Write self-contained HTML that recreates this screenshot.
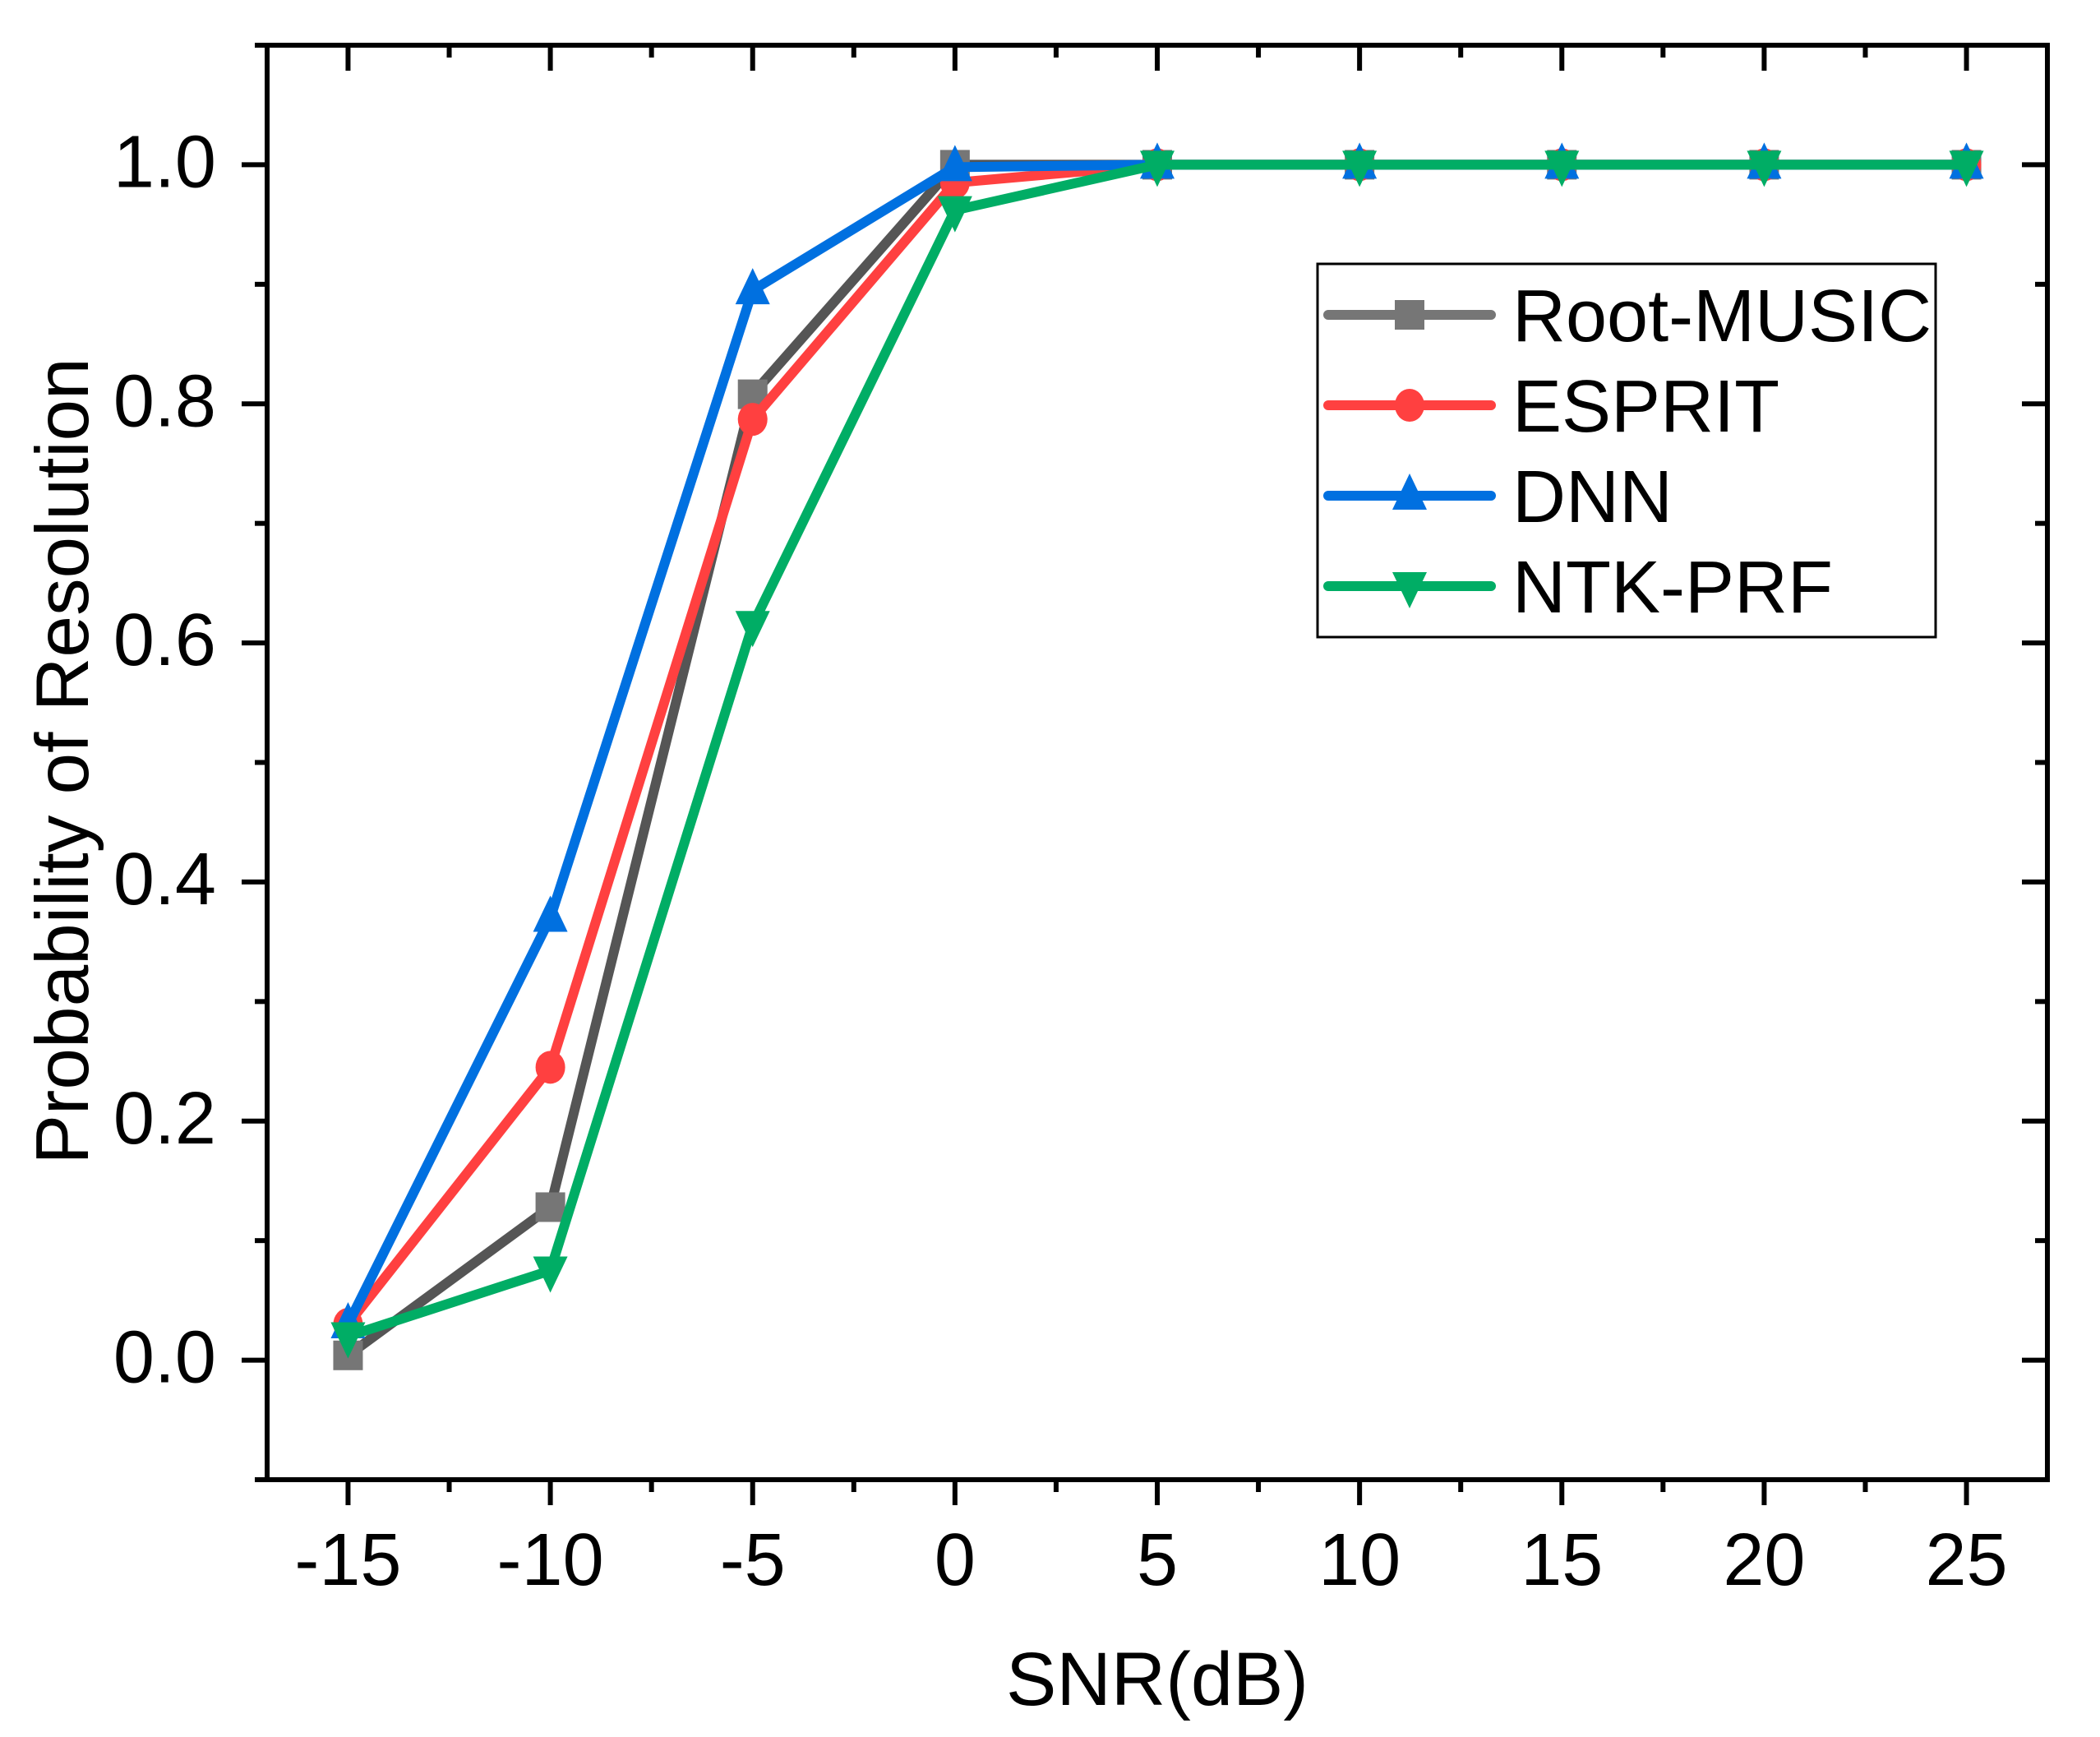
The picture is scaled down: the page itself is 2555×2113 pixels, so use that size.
<!DOCTYPE html>
<html><head><meta charset="utf-8"><style>
html,body{margin:0;padding:0;background:#fff;}
svg{display:block;font-family:"Liberation Sans",Arial,sans-serif;}
</style></head><body>
<svg id="chart" width="2555" height="2113" viewBox="0 0 2555 2113">
<rect width="2555" height="2113" fill="#fff"/>
<g id="ticks"></g>
<g id="series"></g>
<rect x="325" y="55" width="2166" height="1745" fill="none" stroke="#000" stroke-width="6"/>
<text x="75" y="926" font-size="91" text-anchor="middle" transform="rotate(-90 75 926)" dy="32">Probability of Resolution</text>
<text x="1408" y="2074" font-size="92" text-anchor="middle">SNR(dB)</text>
<g id="legend">
<rect x="1603" y="321" width="752" height="454" fill="#fff" stroke="#000" stroke-width="3"/>
</g>
</svg>
<script>
const categories = [-15, -10, -5, 0, 5, 10, 15, 20, 25];
const rootMusic = [0.004, 0.128, 0.808, 1.0, 1.0, 1.0, 1.0, 1.0, 1.0];
const esprit = [0.03, 0.245, 0.787, 0.985, 1.0, 1.0, 1.0, 1.0, 1.0];
const dnn = [0.03, 0.37, 0.895, 0.998, 1.0, 1.0, 1.0, 1.0, 1.0];
const ntkprf = [0.02, 0.075, 0.615, 0.962, 1.0, 1.0, 1.0, 1.0, 1.0];
const xTickLabels = ["-15", "-10", "-5", "0", "5", "10", "15", "20", "25"];
const yTickLabels = ["0.0", "0.2", "0.4", "0.6", "0.8", "1.0"];
const seriesNames = ["Root-MUSIC", "ESPRIT", "DNN", "NTK-PRF"];

const NS = "http://www.w3.org/2000/svg";
const L = 325, R = 2491, T = 55, B = 1800;
const xMin = -17, xMax = 27, yMin = -0.1, yMax = 1.1;
function sx(v){ return L + (v - xMin) / (xMax - xMin) * (R - L); }
function sy(v){ return B - (v - yMin) / (yMax - yMin) * (B - T); }
function mk(tag, attrs, parent){
  const e = document.createElementNS(NS, tag);
  for (const k in attrs) e.setAttribute(k, attrs[k]);
  parent.appendChild(e); return e;
}
const tg = document.getElementById('ticks');
for (let i = 0; i < xTickLabels.length; i++) {
  const v = parseFloat(xTickLabels[i]); const x = sx(v);
  const t1 = mk('line', {x1:x, y1:B, x2:x, y2:B+31, stroke:'#000','stroke-width':6}, tg);
  
  
  const t2 = mk('line', {x1:x, y1:T, x2:x, y2:T+31, stroke:'#000','stroke-width':6}, tg);
  
  
  const tx = mk('text', {x:x, y:1928, 'font-size':90, 'text-anchor':'middle'}, tg);
  tx.textContent = xTickLabels[i];
  
  
  if (i < xTickLabels.length - 1) {
    const m = sx(v + 2.5);
    mk('line', {x1:m, y1:B, x2:m, y2:B+15, stroke:'#000','stroke-width':6}, tg);
    mk('line', {x1:m, y1:T, x2:m, y2:T+15, stroke:'#000','stroke-width':6}, tg);
  }
}
for (let i = 0; i < yTickLabels.length; i++) {
  const v = parseFloat(yTickLabels[i]); const y = sy(v);
  const t1 = mk('line', {x1:L-31, y1:y, x2:L, y2:y, stroke:'#000','stroke-width':6}, tg);
  
  
  mk('line', {x1:R-31, y1:y, x2:R, y2:y, stroke:'#000','stroke-width':6}, tg);
  const tx = mk('text', {x:263, y:y+27, 'font-size':90, 'text-anchor':'end'}, tg);
  tx.textContent = yTickLabels[i];
  
  
}
for (let v = -0.1; v < 1.15; v += 0.2) {
  const y = sy(v);
  mk('line', {x1:L-15, y1:y, x2:L, y2:y, stroke:'#000','stroke-width':6}, tg);
  mk('line', {x1:R-15, y1:y, x2:R, y2:y, stroke:'#000','stroke-width':6}, tg);
}
const styles = [
  {line:'#555555', leg:'#767676', fill:'#767676', m:'square'},
  {line:'#ff4040', leg:'#ff4040', fill:'#ff4040', m:'circle'},
  {line:'#0070e0', leg:'#0070e0', fill:'#0070e0', m:'up'},
  {line:'#00ad65', leg:'#00ad65', fill:'#00ad65', m:'down'}
];
function marker(type, x, y, color, parent){
  let e;
  if (type === 'square') e = mk('rect', {x:x-18, y:y-18, width:36, height:36, fill:color}, parent);
  else if (type === 'circle') e = mk('ellipse', {cx:x, cy:y, rx:18, ry:20, fill:color}, parent);
  else if (type === 'up') e = mk('polygon', {points:`${x},${y-27} ${x-21},${y+17} ${x+21},${y+17}`, fill:color}, parent);
  else e = mk('polygon', {points:`${x},${y+27} ${x-21},${y-17} ${x+21},${y-17}`, fill:color}, parent);
  return e;
}
const sg = document.getElementById('series');
const data = [rootMusic, esprit, dnn, ntkprf];
const slugs = ['root-music', 'esprit', 'dnn', 'ntk-prf'];
for (let s = 0; s < data.length; s++) {
  const g = mk('g', {}, sg);
  
  
  const pts = categories.map((c, i) => sx(c) + ',' + sy(data[s][i])).join(' ');
  const pl = mk('polyline', {points:pts, fill:'none', stroke:styles[s].line, 'stroke-width':12, 'stroke-linejoin':'round'}, g);
  
  
  for (let i = 0; i < categories.length; i++) {
    const p = marker(styles[s].m, sx(categories[i]), sy(data[s][i]), styles[s].fill, g);
    
    
  }
}
const lg = document.getElementById('legend');
const rowY = [383, 493, 603, 713];
for (let s = 0; s < seriesNames.length; s++) {
  const g = mk('g', {}, lg);
  
  
  mk('line', {x1:1616, y1:rowY[s], x2:1814, y2:rowY[s], stroke:styles[s].leg, 'stroke-width':12, 'stroke-linecap':'round'}, g);
  marker(styles[s].m, 1715, rowY[s], styles[s].fill, g);
  const t = mk('text', {x:1840, y:rowY[s] + 32, 'font-size':90, textLength:0}, g);
  t.removeAttribute('textLength');
  t.textContent = seriesNames[s];
}
</script>
</body></html>
